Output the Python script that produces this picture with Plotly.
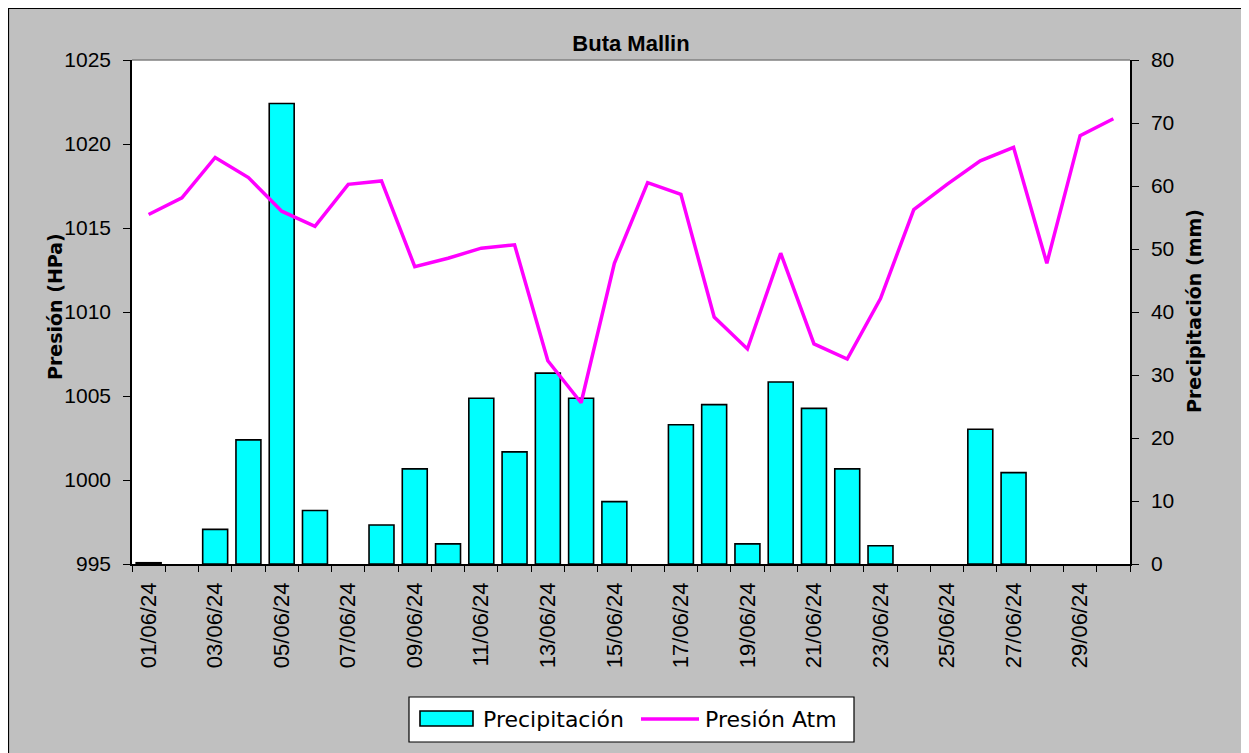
import plotly.graph_objects as go

dates = ["01/06/24", "02/06/24", "03/06/24", "04/06/24", "05/06/24", "06/06/24",
         "07/06/24", "08/06/24", "09/06/24", "10/06/24", "11/06/24", "12/06/24",
         "13/06/24", "14/06/24", "15/06/24", "16/06/24", "17/06/24", "18/06/24",
         "19/06/24", "20/06/24", "21/06/24", "22/06/24", "23/06/24", "24/06/24",
         "25/06/24", "26/06/24", "27/06/24", "28/06/24", "29/06/24", "30/06/24"]

precipitacion = [0.2, 0, 5.5, 19.7, 73.1, 8.5, 0, 6.2, 15.1, 3.2,
                 26.3, 17.8, 30.3, 26.3, 9.9, 0, 22.1, 25.3, 3.2, 28.9,
                 24.7, 15.1, 2.9, 0, 0, 21.4, 14.5, 0, 0, 0]

presion = [1015.8, 1016.8, 1019.2, 1018.0, 1016.0, 1015.1, 1017.6, 1017.8, 1012.7, 1013.2,
           1013.8, 1014.0, 1007.1, 1004.6, 1012.9, 1017.7, 1017.0, 1009.7, 1007.8, 1013.5,
           1008.1, 1007.2, 1010.8, 1016.1, 1017.6, 1019.0, 1019.8, 1012.9, 1020.5, 1021.5]

series_names = ["Precipitación", "Presión Atm"]

tick_text = [d if i % 2 == 0 else "" for i, d in enumerate(dates)]
# zero-rain days have no bar drawn
bar_values = [v if v > 0 else None for v in precipitacion]

BAR_COLOR = "#00FFFF"
LINE_COLOR = "#FF00FF"

# the page body adds an 8px offset; figure sized so it ends at the window edge
OFF = 8
W, H = 1249 - OFF, 753 - OFF
PL, PT, PW, PH = 132, 60, 998, 504          # plot area in page pixels
L, T = PL - OFF, PT - OFF
R, B = W - L - PW, H - T - PH


def fx(px):
    return (px - PL) / PW


def fy(py):
    return 1 - (py - PT) / PH


NUM_FONT = "Liberation Sans, Arial, sans-serif"
TXT_FONT = "DejaVu Sans, Verdana, sans-serif"

fig = go.Figure()
fig.add_trace(go.Bar(
    x=dates, y=bar_values, name=series_names[0], yaxis="y",
    marker=dict(color=BAR_COLOR, line=dict(color="black", width=1.6)),
))
fig.add_trace(go.Scatter(
    x=dates, y=presion, name=series_names[1], yaxis="y2", mode="lines",
    line=dict(color=LINE_COLOR, width=3.5),
))

fig.update_layout(
    width=W, height=H,
    margin=dict(l=L, r=R, t=T, b=B),
    paper_bgcolor="#C0C0C0",
    plot_bgcolor="white",
    bargap=0.25,
    showlegend=False,
    title=dict(text="<b>Buta Mallin</b>", x=0.5, xref="paper", xanchor="center",
               y=1 - (43 - OFF) / H, yref="container", yanchor="middle",
               font=dict(family=NUM_FONT, size=22, color="black")),
    xaxis=dict(
        type="category", categoryorder="array", categoryarray=dates,
        tickmode="array", tickvals=dates, ticktext=tick_text,
        tickson="boundaries", ticks="outside", ticklen=6, tickcolor="black", tickwidth=1,
        tickangle=-90, ticklabelstandoff=8,
        tickfont=dict(family=NUM_FONT, size=22, color="black"),
        showline=True, linecolor="black", linewidth=1.5,
        showgrid=False, zeroline=False, fixedrange=True,
    ),
    yaxis=dict(
        side="right", range=[0, 80], tickmode="linear", tick0=0, dtick=10,
        ticks="outside", ticklen=7, tickcolor="black", ticklabelstandoff=8,
        tickfont=dict(family=NUM_FONT, size=21, color="black"),
        showline=True, linecolor="black", linewidth=1.5,
        showgrid=False, zeroline=False, fixedrange=True,
    ),
    yaxis2=dict(
        side="left", overlaying="y", range=[995, 1025], tickmode="linear", tick0=995, dtick=5,
        ticks="outside", ticklen=7, tickcolor="black", ticklabelstandoff=8,
        tickfont=dict(family=NUM_FONT, size=21, color="black"),
        showline=True, linecolor="black", linewidth=1.5,
        showgrid=False, zeroline=False, fixedrange=True,
    ),
)

fig.add_annotation(text="<b>Presión (HPa)</b>", x=fx(55), y=fy(307), xref="paper", yref="paper",
                   textangle=-90, showarrow=False, xanchor="center", yanchor="middle",
                   font=dict(family=TXT_FONT, size=19, color="black"))
fig.add_annotation(text="<b>Precipitación (mm)</b>", x=fx(1194), y=fy(311), xref="paper", yref="paper",
                   textangle=-90, showarrow=False, xanchor="center", yanchor="middle",
                   font=dict(family=TXT_FONT, size=19, color="black"))

# black border around the grey chart area
fig.add_shape(type="rect", xref="paper", yref="paper", x0=fx(OFF + 0.5), x1=fx(1270), y0=fy(780), y1=fy(OFF + 0.5),
              fillcolor="rgba(0,0,0,0)", line=dict(color="black", width=1.2), layer="above")
# grey top edge of plot area
fig.add_shape(type="line", xref="paper", yref="paper", x0=0, x1=1, y0=1, y1=1,
              line=dict(color="#808080", width=1.5), layer="above")

# legend (Excel style: wide bar swatch, long line sample)
fig.add_shape(type="rect", xref="paper", yref="paper", x0=fx(409), x1=fx(854), y0=fy(742), y1=fy(697),
              fillcolor="white", line=dict(color="black", width=1.2), layer="above")
fig.add_shape(type="rect", xref="paper", yref="paper", x0=fx(420), x1=fx(473), y0=fy(726), y1=fy(711),
              fillcolor=BAR_COLOR, line=dict(color="black", width=1.6), layer="above")
fig.add_shape(type="line", xref="paper", yref="paper", x0=fx(641), x1=fx(699), y0=fy(719), y1=fy(719),
              line=dict(color=LINE_COLOR, width=3.5), layer="above")
fig.add_annotation(text=series_names[0], x=fx(481), y=fy(719), xref="paper", yref="paper",
                   showarrow=False, xanchor="left", yanchor="middle",
                   font=dict(family=TXT_FONT, size=22, color="black"))
fig.add_annotation(text=series_names[1], x=fx(703), y=fy(719), xref="paper", yref="paper",
                   showarrow=False, xanchor="left", yanchor="middle",
                   font=dict(family=TXT_FONT, size=22, color="black"))

fig.write_html("out.html")
